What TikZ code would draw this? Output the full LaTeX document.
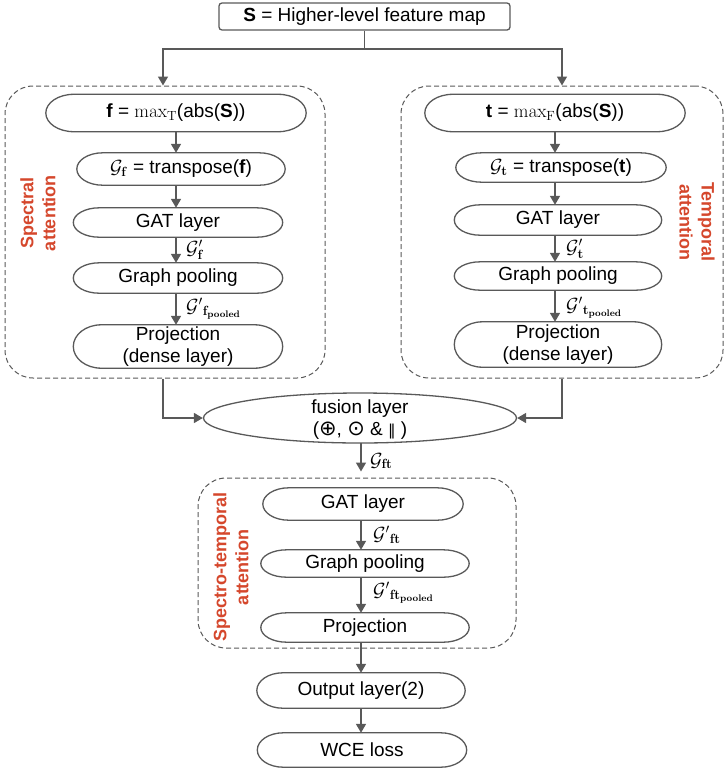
\RequirePackage{fix-cm}
\documentclass[tikz,border=0pt]{standalone}
\usepackage[no-math]{fontspec}
\setmainfont{Liberation Sans}
\newfontfamily\symfont{DejaVu Sans}
\usetikzlibrary{arrows.meta,calc,shapes.geometric}
\definecolor{lc}{HTML}{595959}
\definecolor{rc}{HTML}{D5472C}
\newcommand\capsule[2][26]{%
  \draw[line] let \p1=(#2.north west), \p2=(#2.south east), \n1={(\y1-\y2)/2} in
  (\x1+#1pt,\y1) -- (\x2-#1pt,\y1)
  arc[start angle=90,end angle=-90,x radius=#1pt,y radius=\n1]
  -- (\x1+#1pt,\y2)
  arc[start angle=270,end angle=90,x radius=#1pt,y radius=\n1] -- cycle;}
\begin{document}
\begin{tikzpicture}[x=1pt,y=1pt,
  line/.style={draw=lc,line width=1.3pt},
  arr/.style={draw=lc,line width=1.6pt,-{Triangle[width=10pt,length=9pt]}},
  blk/.style={rectangle,draw=none,inner sep=0pt,font=\fontsize{19}{22}\selectfont,align=center},
  topbox/.style={rectangle,draw=lc,line width=1.3pt,rounded corners=3pt,inner sep=0pt,font=\fontsize{19}{22}\selectfont},
  grp/.style={rectangle,draw=lc,line width=1pt,dash pattern=on 5pt off 3pt,rounded corners=28pt,inner sep=0pt},
  lab/.style={font=\fontsize{19}{20}\selectfont,anchor=west,inner sep=0pt},
  grplabel/.style={text=rc,font=\fontsize{18}{22}\selectfont\bfseries,align=center,inner sep=0pt}]
\useasboundingbox (0,0) rectangle (727,-772);

% top
\node[topbox,minimum width=291pt,minimum height=27pt] (S) at (364.5,-16.5) {\textbf{S} = Higher-level feature map};

% group boxes
\node[grp,minimum width=320pt,minimum height=292pt] (boxL) at (165,-232) {};
\node[grp,minimum width=322pt,minimum height=292pt] (boxR) at (562,-232) {};
\node[grp,minimum width=318pt,minimum height=170pt] (boxB) at (357,-563) {};

% left column
\node[blk,minimum width=260pt,minimum height=37pt] (fmax) at (176,-113) {\textbf{f} = $\mathrm{max}_{\mathrm{T}}$(abs(\textbf{S}))};
\node[blk,minimum width=208pt,minimum height=32pt] (gf) at (181,-169) {$\mathcal{G}_{\mathbf{f}}$ = transpose(\textbf{f})};
\node[blk,minimum width=209pt,minimum height=29pt] (gatL) at (178,-222.5) {GAT layer};
\node[blk,minimum width=209pt,minimum height=30pt] (poolL) at (178,-278) {Graph pooling};
\node[blk,minimum width=209pt,minimum height=43pt] (projL) at (178,-346.5) {Projection\\(dense layer)};

% right column
\node[blk,minimum width=260pt,minimum height=37pt] (tmax) at (555,-113) {\textbf{t} = $\mathrm{max}_{\mathrm{F}}$(abs(\textbf{S}))};
\node[blk,minimum width=210pt,minimum height=29pt] (gt) at (561,-167.5) {$\mathcal{G}_{\mathbf{t}}$ = transpose(\textbf{t})};
\node[blk,minimum width=207pt,minimum height=30pt] (gatR) at (558,-220) {GAT layer};
\node[blk,minimum width=207pt,minimum height=28pt] (poolR) at (558,-276) {Graph pooling};
\node[blk,minimum width=207pt,minimum height=45pt] (projR) at (558,-344.5) {Projection\\(dense layer)};

% fusion
\node[ellipse,draw=lc,line width=1.3pt,minimum width=313pt,minimum height=50pt,inner sep=0pt] (fusion) at (360,-418) {};
\node[blk] (fusiontxt) at (360,-420) {fusion layer\\({\symfont\fontsize{21}{22}\selectfont ⊕}, {\symfont\fontsize{21}{22}\selectfont ⊙} \& {\symfont\fontsize{15}{22}\selectfont ‖} )};

% bottom column
\node[blk,minimum width=200pt,minimum height=32pt] (gat3) at (363,-504) {GAT layer};
\node[blk,minimum width=208pt,minimum height=27pt] (pool3) at (365,-563.5) {Graph pooling};
\node[blk,minimum width=208pt,minimum height=29pt] (proj3) at (365,-627.5) {Projection};
\node[blk,minimum width=208pt,minimum height=35pt] (out) at (361,-690.5) {Output layer(2)};
\node[blk,minimum width=209pt,minimum height=34pt] (wce) at (362,-750) {WCE loss};

% capsule outlines
\capsule[28]{fmax}
\capsule{gf}
\capsule{gatL}
\capsule{poolL}
\capsule[28]{projL}
\capsule[28]{tmax}
\capsule{gt}
\capsule{gatR}
\capsule{poolR}
\capsule[28]{projR}
\capsule{gat3}
\capsule{pool3}
\capsule{proj3}
\capsule{out}
\capsule{wce}

% group labels
\node[grplabel,rotate=90] (lblL) at (38,-213) {Spectral\\attention};
\node[grplabel,rotate=-90] (lblR) at (697,-222) {Temporal\\attention};
\node[grplabel,rotate=90] (lblB) at (231,-567) {Spectro-temporal\\attention};

% top connectors
\coordinate (split) at (364.5,-49);
\draw[arr] (S.south) -- (split) -| ($(boxL.north)+(-2,0)$);
\draw[arr] (split) -| (boxR.north);

% left arrows
\draw[arr] (fmax.south) -- (fmax.south |- gf.north);
\draw[arr] (fmax.south |- gf.south) -- (fmax.south |- gatL.north);
\draw[arr] (fmax.south |- gatL.south) -- (fmax.south |- poolL.north);
\draw[arr] (fmax.south |- poolL.south) -- (fmax.south |- projL.north);
\node[lab] (lgf) at (186,-250) {$\mathcal{G}'_{\mathbf{f}}$};
\node[lab] (lgfp) at (186,-309) {${\mathcal{G}'}_{\mathbf{f}_{\mathbf{pooled}}}$};

% right arrows
\draw[arr] (tmax.south) -- (tmax.south |- gt.north);
\draw[arr] (tmax.south |- gt.south) -- (tmax.south |- gatR.north);
\draw[arr] (tmax.south |- gatR.south) -- (tmax.south |- poolR.north);
\draw[arr] (tmax.south |- poolR.south) -- (tmax.south |- projR.north);
\node[lab] (lgt) at (566,-249) {$\mathcal{G}'_{\mathbf{t}}$};
\node[lab] (lgtp) at (566,-308) {${\mathcal{G}'}_{\mathbf{t}_{\mathbf{pooled}}}$};

% to fusion
\draw[arr] ($(boxL.south)+(-2,0)$) |- (fusion.west);
\draw[arr] (boxR.south) |- (fusion.east);

% bottom arrows
\coordinate (colB) at (361,-443);
\draw[arr,shorten >=6pt] (colB) -- (colB |- boxB.north);
\node[lab] (lgft) at (370,-461) {$\mathcal{G}_{\mathbf{ft}}$};
\draw[arr] (colB |- gat3.south) -- (colB |- pool3.north);
\node[lab] (lgft2) at (373,-535) {${\mathcal{G}'}_{\mathbf{ft}}$};
\draw[arr] (colB |- pool3.south) -- (colB |- proj3.north);
\node[lab] (lgft3) at (373,-593) {${\mathcal{G}'}_{\mathbf{ft}_{\mathbf{pooled}}}$};
\draw[arr] (colB |- proj3.south) -- (colB |- out.north);
\draw[arr] (colB |- out.south) -- (colB |- wce.north);
\end{tikzpicture}
\end{document}
